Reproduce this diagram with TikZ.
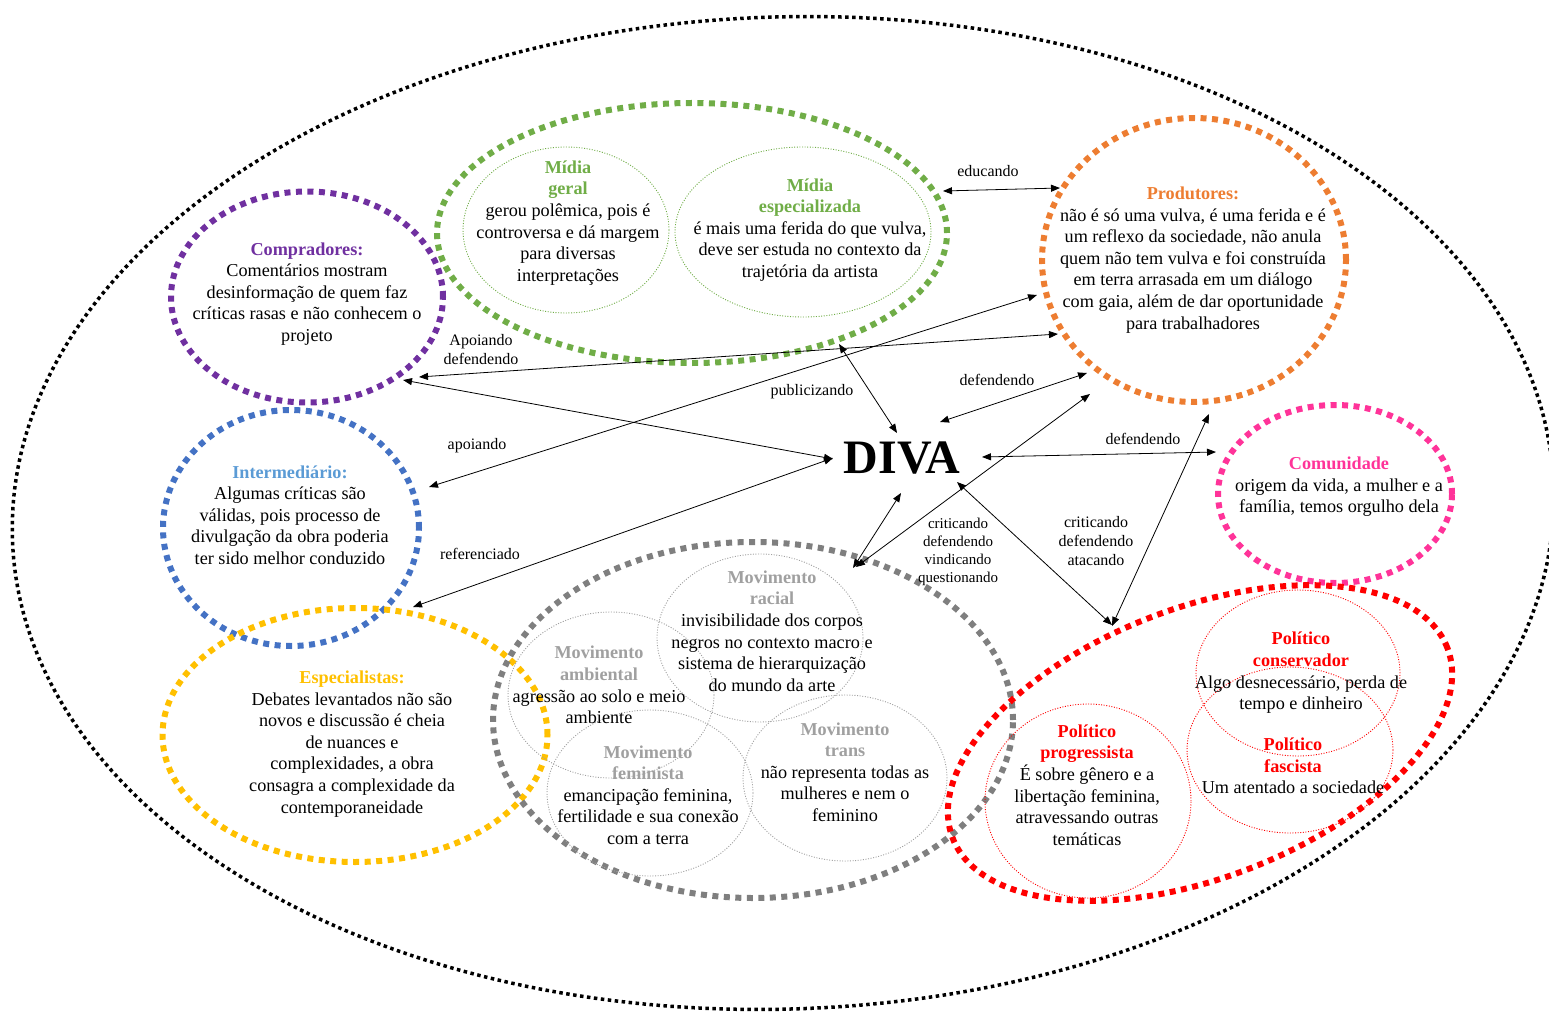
\documentclass[tikz,border=0pt]{standalone}
\usepackage{fontspec}
\setmainfont{Liberation Serif}
\usetikzlibrary{shapes.geometric,arrows.meta}

\definecolor{cPurple}{HTML}{7030A0}
\definecolor{cGreen}{HTML}{70AD47}
\definecolor{cOrange}{HTML}{ED7D31}
\definecolor{cPink}{HTML}{FF3399}
\definecolor{cBlue}{HTML}{4472C4}
\definecolor{cLightBlue}{HTML}{5B9BD5}
\definecolor{cYellow}{HTML}{FFC000}
\definecolor{cGray}{HTML}{7F7F7F}
\definecolor{cLightGray}{HTML}{A0A0A0}
\definecolor{cRed}{HTML}{FF0000}

\begin{document}
\begin{tikzpicture}[x=1pt,y=-1pt,
  outerring/.style={draw=black, shape=ellipse, inner sep=0pt, line width=3.5pt, dash pattern=on 3.5pt off 3.5pt},
  ring/.style={draw=#1, shape=ellipse, inner sep=0pt, line width=6pt, dash pattern=on 6pt off 5.5pt},
  subring/.style={draw=#1, shape=ellipse, inner sep=0pt, line width=0.9pt, dash pattern=on 1pt off 1.6pt},
  body/.style={align=center, inner sep=0pt, font=\fontsize{18.2}{21.6}\selectfont},
  lbl/.style={align=center, inner sep=0pt, font=\fontsize{16}{19}\selectfont},
  smalllbl/.style={align=center, inner sep=0pt, font=\fontsize{15}{18}\selectfont},
  link/.style={line width=0.8pt, {Triangle[length=9pt,width=7pt]}-{Triangle[length=9pt,width=7pt]}},
]
\useasboundingbox (0,0) rectangle (1549,1016);

% outer container
\begin{scope}
  \clip (0,0) rectangle (1549,1016);
  \node[outerring, minimum width=1542pt, minimum height=992pt, rotate=2] (world) at (783,513) {};
\end{scope}

% actor groups
\node[ring=cPurple, minimum width=272pt, minimum height=211pt] (comp) at (307,297) {};
\node[ring=cGreen,  minimum width=510pt, minimum height=260pt] (midia) at (692,233) {};
\node[ring=cOrange, minimum width=304pt, minimum height=284pt] (prod) at (1194,260) {};
\node[ring=cPink,   minimum width=234pt, minimum height=178pt] (comu) at (1335,494) {};
\node[ring=cBlue,   minimum width=256pt, minimum height=236pt] (inter) at (291,528) {};
\node[ring=cYellow, minimum width=385pt, minimum height=254pt] (espec) at (355,735) {};
\node[ring=cGray,   minimum width=520pt, minimum height=356pt] (movs) at (753,720) {};
\node[ring=cRed,    minimum width=530pt, minimum height=270pt, rotate=21] (pol) at (1200,743) {};

% sub groups
\node[subring=cGreen, minimum width=206pt, minimum height=166pt] (mgeral) at (566,230) {};
\node[subring=cGreen, minimum width=256pt, minimum height=170pt] (mespec) at (803,232) {};
\node[subring=cLightGray, minimum width=206pt, minimum height=168pt] (mracial) at (760,638) {};
\node[subring=cLightGray, minimum width=206pt, minimum height=166pt] (mamb) at (611,695) {};
\node[subring=cLightGray, minimum width=206pt, minimum height=166pt] (mfem) at (650,793) {};
\node[subring=cLightGray, minimum width=204pt, minimum height=166pt] (mtrans) at (845,778) {};
\node[subring=cRed, minimum width=206pt, minimum height=194pt] (pprog) at (1088,801) {};
\node[subring=cRed, minimum width=204pt, minimum height=166pt] (pcons) at (1298,673) {};
\node[subring=cRed, minimum width=206pt, minimum height=166pt] (pfasc) at (1290,750) {};

% texts
\node[body] (comp-t) at (307,294) {\textbf{\textcolor{cPurple}{Compradores:}}\\Comentários mostram\\desinformação de quem faz\\críticas rasas e não conhecem o\\projeto};
\node[body] (mgeral-t) at (568,223) {\textbf{\textcolor{cGreen}{Mídia}}\\\textbf{\textcolor{cGreen}{geral}}\\gerou polêmica, pois é\\controversa e dá margem\\para diversas\\interpretações};
\node[body] (mespec-t) at (810,230) {\textbf{\textcolor{cGreen}{Mídia}}\\\textbf{\textcolor{cGreen}{especializada}}\\é mais uma ferida do que vulva,\\deve ser estuda no contexto da\\trajetória da artista};
\node[body] (prod-t) at (1193,260) {\textbf{\textcolor{cOrange}{Produtores:}}\\não é só uma vulva, é uma ferida e é\\um reflexo da sociedade, não anula\\quem não tem vulva e foi construída\\em terra arrasada em um diálogo\\com gaia, além de dar oportunidade\\para trabalhadores};
\node[body] (inter-t) at (290,515) {\textbf{\textcolor{cLightBlue}{Intermediário:}}\\Algumas críticas são\\válidas, pois processo de\\divulgação da obra poderia\\ter sido melhor conduzido};
\node[body] (espec-t) at (352,744) {\textbf{\textcolor{cYellow}{Especialistas:}}\\Debates levantados não são\\novos e discussão é cheia\\de nuances e\\complexidades, a obra\\consagra a complexidade da\\contemporaneidade};
\node[body] (comu-t) at (1339,487) {\textbf{\textcolor{cPink}{Comunidade}}\\origem da vida, a mulher e a\\família, temos orgulho dela};
\node[inner sep=0pt, font=\fontsize{48}{48}\selectfont\bfseries] (diva) at (902,458) {DIVA};
\node[body] (mracial-t) at (772,631) {\textbf{\textcolor{cLightGray}{Movimento}}\\\textbf{\textcolor{cLightGray}{racial}}\\invisibilidade dos corpos\\negros no contexto macro e\\sistema de hierarquização\\do mundo da arte};
\node[body] (mamb-t) at (599,685) {\textbf{\textcolor{cLightGray}{Movimento}}\\\textbf{\textcolor{cLightGray}{ambiental}}\\agressão ao solo e meio\\ambiente};
\node[body] (mfem-t) at (648,795) {\textbf{\textcolor{cLightGray}{Movimento}}\\\textbf{\textcolor{cLightGray}{feminista}}\\emancipação feminina,\\fertilidade e sua conexão\\com a terra};
\node[body] (mtrans-t) at (845,772) {\textbf{\textcolor{cLightGray}{Movimento}}\\\textbf{\textcolor{cLightGray}{trans}}\\não representa todas as\\mulheres e nem o\\feminino};
\node[body] (pcons-t) at (1301,673) {\textbf{\textcolor{cRed}{Político}}\\\textbf{\textcolor{cRed}{conservador}}\\Algo desnecessário, perda de\\tempo e dinheiro};
\node[body] (pfasc-t) at (1293,766) {\textbf{\textcolor{cRed}{Político}}\\\textbf{\textcolor{cRed}{fascista}}\\Um atentado a sociedade};
\node[body] (pprog-t) at (1087,785) {\textbf{\textcolor{cRed}{Político}}\\\textbf{\textcolor{cRed}{progressista}}\\É sobre gênero e a\\libertação feminina,\\atravessando outras\\temáticas};

% connector ends
\coordinate (midia-e) at (943,191);
\coordinate (prod-w) at (1060,188);
\coordinate (comp-e1) at (419,377);
\coordinate (prod-sw1) at (1058,334);
\coordinate (comp-e2) at (403,380);
\coordinate (diva-w1) at (833,459);
\coordinate (midia-s) at (839,344);
\coordinate (diva-n) at (897,433);
\coordinate (diva-ne) at (940,422);
\coordinate (prod-sw2) at (1087,373);
\coordinate (inter-ne) at (429,487);
\coordinate (prod-w2) at (1037,295);
\coordinate (espec-ne) at (413,607);
\coordinate (diva-w2) at (833,458);
\coordinate (diva-e) at (982,457);
\coordinate (comu-w) at (1216,452);
\coordinate (diva-s) at (901,493);
\coordinate (movs-n1) at (853,568);
\coordinate (movs-n2) at (856,567);
\coordinate (prod-sw3) at (1090,394);
\coordinate (diva-se) at (957,482);
\coordinate (pol-n1) at (1112,625);
\coordinate (pol-n2) at (1112,626);
\coordinate (prod-s) at (1209,414);

% connectors
\draw[link] (midia-e) -- (prod-w);
\draw[link] (comp-e1) -- (prod-sw1);
\draw[link] (comp-e2) -- (diva-w1);
\draw[link] (midia-s) -- (diva-n);
\draw[link] (diva-ne) -- (prod-sw2);
\draw[link] (inter-ne) -- (prod-w2);
\draw[link] (espec-ne) -- (diva-w2);
\draw[link] (diva-e) -- (comu-w);
\draw[link] (diva-s) -- (movs-n1);
\draw[link] (movs-n2) -- (prod-sw3);
\draw[link] (diva-se) -- (pol-n1);
\draw[link] (pol-n2) -- (prod-s);

% connector labels
\node[lbl] (l-educ) at (988,171) {educando};
\node[lbl] (l-apoi1) at (481,350) {Apoiando\\defendendo};
\node[lbl] (l-publ) at (812,392) {publicizando};
\node[lbl] (l-def1) at (997,380) {defendendo};
\node[lbl] (l-apoi2) at (477,446) {apoiando};
\node[lbl] (l-ref) at (480,554) {referenciado};
\node[lbl] (l-def2) at (1143,439) {defendendo};
\node[smalllbl] (l-mov) at (958,552) {criticando\\defendendo\\vindicando\\questionando};
\node[lbl] (l-pol) at (1096,541) {criticando\\defendendo\\atacando};
\end{tikzpicture}
\end{document}
